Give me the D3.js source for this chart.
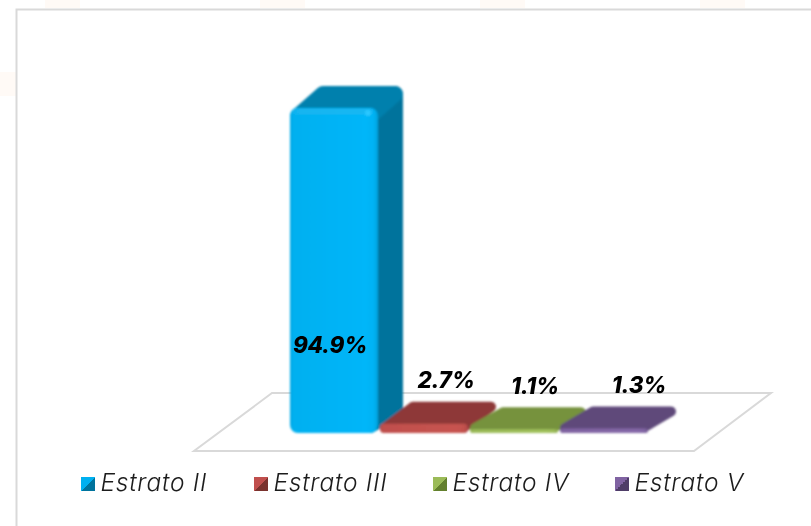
<!DOCTYPE html>
<html><head><meta charset="utf-8">
<script src="https://cdn.jsdelivr.net/npm/d3@7/dist/d3.min.js"></script>
<style>html,body{margin:0;padding:0;background:#fff}svg{display:block}</style>
</head><body><div id="c"></div>
<script>
const categories = ["Estrato II", "Estrato III", "Estrato IV", "Estrato V"];
const values = [94.9, 2.7, 1.1, 1.3];
const valueLabels = ["94.9%", "2.7%", "1.1%", "1.3%"];
const frontColors = ["#00b0f0", "#c0504d", "#9bbb59", "#8064a2"];
const topColors = ["#0080ad", "#8e3937", "#76923c", "#5f497a"];
const sideColors = ["#00739c", "#7a302e", "#64802f", "#4f3c68"];

const W = 811, H = 526;
const svg = d3.select("#c").append("svg").attr("width", W).attr("height", H);
const defs = svg.append("defs");
defs.append("filter").attr("id","soft").append("feGaussianBlur").attr("stdDeviation",0.8);
defs.append("filter").attr("id","softer").append("feGaussianBlur").attr("stdDeviation",0.3);
defs.append("filter").attr("id","bevel").append("feGaussianBlur").attr("stdDeviation",2);

// faint page background marks
svg.selectAll("rect.bgm").data([[45,0,35,8],[260,0,45,8],[480,0,45,8],[700,0,45,8],[0,72,16,24]]).enter()
  .append("rect").attr("x",d=>d[0]).attr("y",d=>d[1]).attr("width",d=>d[2]).attr("height",d=>d[3]).attr("fill","#fffaf6");

// chart frame
svg.append("path").attr("d",`M16.5,${H} V9.5 H${W}`).attr("fill","none").attr("stroke","#d9d9d9").attr("stroke-width",2);

// scales
const x = d3.scaleBand().domain(categories).range([290,650]).paddingInner(0);
const y = d3.scaleLinear().domain([0,94.9]).range([433,108]);
const depthY = 22;

// floor
svg.append("polygon").attr("points","194,451 694,451 771,393 272,393")
  .attr("fill","#fff").attr("stroke","#d9d9d9").attr("stroke-width",2).attr("filter","url(#softer)");

// gradients
categories.forEach((c,i)=>{
  const f = d3.color(frontColors[i]);
  const g = defs.append("linearGradient").attr("id","fg"+i);
  [[0,f.darker(0.12)],[0.05,f],[0.86,f.brighter(0.1)],[0.95,f.brighter(0.05)],[1,f.darker(0.25)]].forEach(s=>
    g.append("stop").attr("offset",s[0]).attr("stop-color",s[1]));
  const lg = defs.append("linearGradient").attr("id","lg"+i).attr("x1",0).attr("y1",0).attr("x2",1).attr("y2",1);
  const t = d3.color(frontColors[i]), b = d3.color(sideColors[i]);
  [[0,t],[0.5,t],[0.5,b],[1,b]].forEach(s=>lg.append("stop").attr("offset",s[0]).attr("stop-color",s[1]));
});

// bars
const bars = svg.append("g").attr("filter","url(#soft)");
categories.forEach((c,i)=>{
  const x0 = x(c), w = x.bandwidth() - 2, x1 = x0 + w;
  const yb = y(0), yt = y(values[i]), h = yb - yt;
  const g = bars.append("g");
  const r = i===0 ? 8 : 5;
  const depthX = i===0 ? 25 : 28;
  if (i===0) g.append("polygon").attr("points",[[x1-r,yt+r],[x1+depthX-r,yt-depthY+r],[x1+depthX-r,yb-depthY],[x1-r,yb-r]].join(" "))
    .attr("fill",sideColors[i]).attr("stroke",sideColors[i]).attr("stroke-width",2*r).attr("stroke-linejoin","round");
  const low = i===0 ? yt+r : yb-r;
  g.append("polygon").attr("points",[[x0+r,low],[x1-r,low],[x1+depthX-r,yt-depthY+r],[x0+depthX+r,yt-depthY+r]].join(" "))
    .attr("fill",topColors[i]).attr("stroke",topColors[i]).attr("stroke-width",2*r).attr("stroke-linejoin","round");
  g.append("rect").attr("x",x0).attr("y",yt).attr("width",w).attr("height",h)
    .attr("rx",Math.min(i===0?8:4,h/2)).attr("fill",`url(#fg${i})`);
});
// highlight on the big bar's top bevel
const hb = bars.append("g");
hb.append("rect").attr("x",x(categories[0])+5).attr("y",y(values[0])+1).attr("width",x.bandwidth()-14).attr("height",5).attr("fill","#1ab8f0").attr("filter","url(#bevel)");
hb.append("circle").attr("cx",x(categories[0])+78).attr("cy",y(values[0])+5).attr("r",3).attr("fill","#2cc8ff");

// value labels
const labelDX = [-5,21,20,34];
const labels = svg.append("g").attr("filter","url(#softer)");
categories.forEach((c,i)=>{
  const ly = i===0 ? y(0)-80 : y(values[i])-depthY-13.5;
  labels.append("text").attr("x",x(c)+x.bandwidth()/2+labelDX[i]).attr("y",ly)
    .attr("text-anchor","middle").attr("font-family","Inter, 'Open Sans', sans-serif")
    .attr("font-weight",800).attr("font-style","italic").attr("font-size",22.5).attr("letter-spacing",-0.2).attr("fill","#000").text(valueLabels[i]);
});

// legend
const legendMarkX = [81,254,433,615];
const legend = svg.append("g").attr("filter","url(#softer)");
categories.forEach((c,i)=>{
  legend.append("rect").attr("x",legendMarkX[i]).attr("y",477).attr("width",14).attr("height",14).attr("fill",`url(#lg${i})`);
  legend.append("text").attr("x",legendMarkX[i]+19.5).attr("y",491).attr("font-family","Inter, 'Open Sans', sans-serif")
    .attr("font-style","italic").attr("font-weight",300).attr("font-size",24.5).attr("letter-spacing",0.75).attr("fill","#1a1a1a").text(c);
});
</script></body></html>
